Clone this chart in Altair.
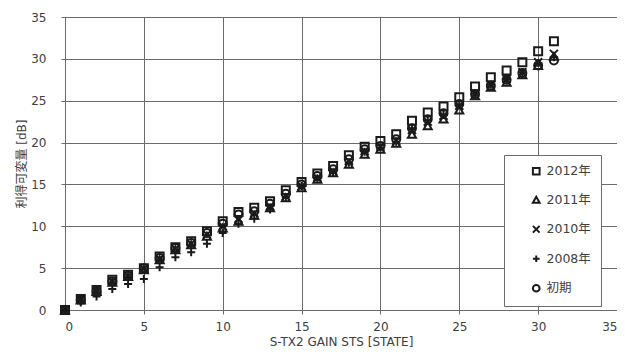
import altair as alt
import pandas as pd

states = list(range(32))
series_names = ["2012年", "2011年", "2010年", "2008年", "初期"]

v2012 = [0, 1.3, 2.4, 3.6, 4.2, 5.0, 6.4, 7.5, 8.2, 9.4, 10.6, 11.7, 12.2, 13.0, 14.3, 15.3,
         16.3, 17.2, 18.5, 19.5, 20.2, 21.0, 22.6, 23.6, 24.3, 25.4, 26.7, 27.8, 28.6, 29.6, 30.9, 32.1]
v2011 = [0, 1.2, 2.2, 3.3, 4.0, 4.8, 6.0, 7.2, 7.8, 8.8, 9.8, 10.6, 11.3, 12.2, 13.4, 14.6,
         15.6, 16.4, 17.4, 18.6, 19.2, 19.9, 21.0, 22.0, 22.8, 23.9, 25.6, 26.6, 27.2, 28.1, 29.2, 30.3]
v2010 = [0, 1.2, 2.2, 3.4, 4.0, 4.9, 6.1, 7.3, 7.9, 9.0, 10.0, 10.9, 11.6, 12.4, 13.6, 14.8,
         15.8, 16.6, 17.8, 19.0, 19.5, 20.2, 21.5, 22.5, 23.2, 24.4, 25.9, 26.9, 27.6, 28.4, 29.6, 30.6]
v2008 = [0, 0.9, 1.6, 2.5, 3.1, 3.7, 5.1, 6.3, 6.9, 7.9, 9.2, 10.3, 10.9, 12.0, 13.5, 14.8,
         15.7, 16.4, 17.6, 18.9, 19.4, 20.1, 21.6, 22.6, 23.3, 24.5, 25.9, 26.9, 27.6, 28.4, 29.5, 30.2]
v_init = [0, 1.2, 2.2, 3.4, 4.1, 5.0, 6.2, 7.4, 8.0, 9.2, 10.3, 11.4, 11.8, 12.7, 13.9, 15.0,
          16.0, 16.8, 18.0, 19.2, 19.6, 20.4, 21.7, 22.8, 23.5, 24.6, 25.8, 26.8, 27.5, 28.3, 29.2, 29.8]

axis_ticks = [0, 5, 10, 15, 20, 25, 30, 35]

rows = []
for order, (name, vals) in enumerate(zip(series_names, [v2012, v2011, v2010, v2008, v_init])):
    for s, v in zip(states, vals):
        rows.append({"state": s, "gain": v, "series": name, "ord": 5 - order})
df = pd.DataFrame(rows)

x_path = "M-1,-1L1,1M-1,1L1,-1"
plus_path = "M-1,0L1,0M0,-1L0,1"

FONT = "DejaVu Sans, Noto Sans CJK JP"
GRID = "#6b6b6b"
TXT = "#404040"

chart = alt.Chart(df).mark_point(
    filled=False, strokeWidth=2, size=64, color="#1a1a1a", opacity=1
).encode(
    x=alt.X("state:Q",
            scale=alt.Scale(domain=[0, 35], nice=False, zero=False),
            axis=alt.Axis(values=axis_ticks, title="S-TX2 GAIN STS [STATE]",
                          tickSize=4, labelPadding=7, titlePadding=4)),
    y=alt.Y("gain:Q",
            scale=alt.Scale(domain=[0, 35], nice=False, zero=False),
            axis=alt.Axis(values=axis_ticks, title="利得可変量 [dB]",
                          tickSize=4, labelPadding=15, titlePadding=2)),
    shape=alt.Shape("series:N",
                    scale=alt.Scale(domain=series_names,
                                    range=["square", "triangle-up", x_path, plus_path, "circle"]),
                    legend=alt.Legend(orient="none", legendX=439, legendY=138, title=None,
                                      fillColor="white", strokeColor=GRID, padding=10,
                                      symbolOffset=16, rowPadding=13.5, labelFontSize=12.5,
                                      labelOffset=4, symbolSize=45, symbolStrokeWidth=2,
                                      symbolStrokeColor="#1a1a1a", labelColor=TXT,
                                      labelFont=FONT)),
    order=alt.Order("ord:Q"),
).properties(
    width=552, height=293,
    autosize=alt.AutoSizeParams(type="none"),
    padding={"left": 57, "top": 9, "right": 0, "bottom": 40},
).configure_axis(
    grid=True, gridColor=GRID, gridWidth=1, gridOpacity=1,
    domainColor=GRID, domainWidth=1, tickColor=GRID, tickWidth=1,
    labelFont=FONT, titleFont=FONT, labelFontSize=12, titleFontSize=12,
    labelColor=TXT, titleColor=TXT, titleFontWeight="normal",
).configure_view(stroke=None)

chart.save("out.html", embed_options={"renderer": "svg", "actions": False})
